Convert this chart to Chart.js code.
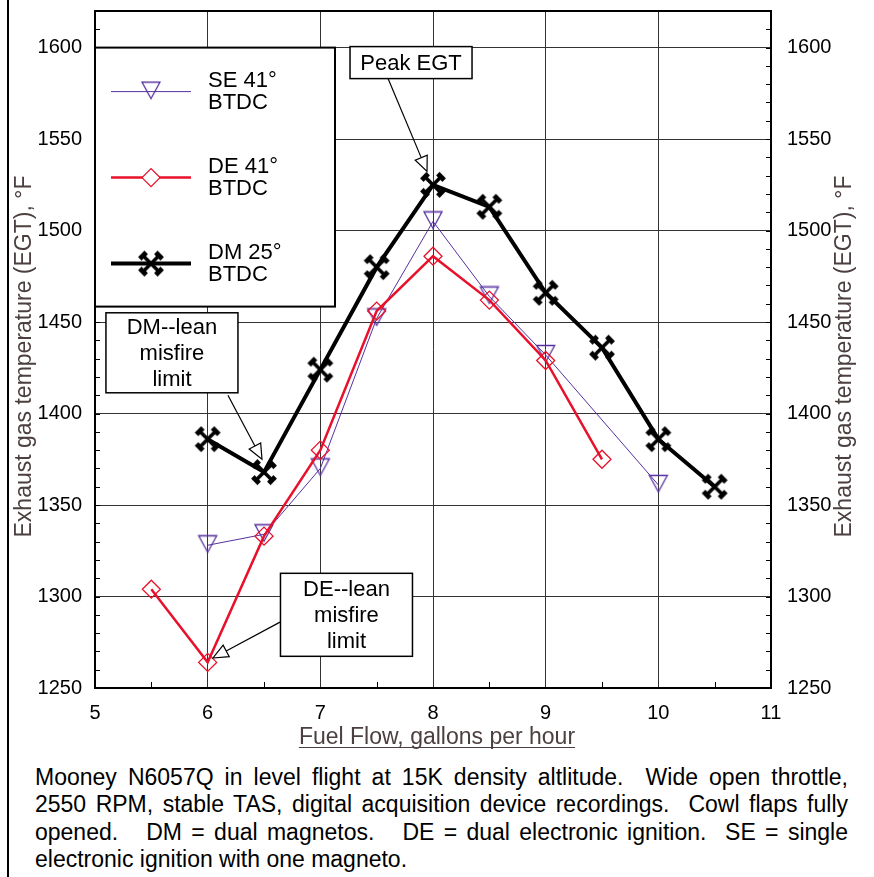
<!DOCTYPE html>
<html><head><meta charset="utf-8">
<script src="https://cdn.jsdelivr.net/npm/chart.js@4.4.1/dist/chart.umd.min.js"></script>
<style>
html,body{margin:0;padding:0;background:#fff;width:874px;height:877px;overflow:hidden;}
#wrap{position:absolute;left:0;top:0;width:874px;height:750px;}
#frame{position:absolute;left:7px;top:0;width:2px;height:877px;background:#000;}
#caption{position:absolute;left:35px;top:764px;width:813px;font-family:"Liberation Sans",Arial,sans-serif;font-size:23px;line-height:27.3px;color:#000;}
#caption .j{text-align:justify;text-align-last:justify;}
</style></head>
<body>
<div id="frame"></div>
<div id="wrap"><canvas id="c" width="874" height="750"></canvas></div>
<div id="caption">
<div class="j">Mooney N6057Q in level flight at 15K density altlitude.&nbsp; Wide open throttle,</div>
<div class="j">2550 RPM, stable TAS, digital acquisition device recordings.&nbsp; Cowl flaps fully</div>
<div class="j">opened.&nbsp;&nbsp; DM = dual magnetos.&nbsp;&nbsp; DE = dual electronic ignition.&nbsp; SE = single</div>
<div>electronic ignition with one magneto.</div>
</div>
<script>
// ---------------- data ----------------
const fuelFlowDM = [6, 6.5, 7, 7.5, 8, 8.5, 9, 9.5, 10, 10.5];
const egtDM      = [1386, 1368, 1424, 1480, 1525, 1513, 1466, 1436, 1386, 1360];
const fuelFlowDE = [5.5, 6, 6.5, 7, 7.5, 8, 8.5, 9, 9.5];
const egtDE      = [1304, 1264, 1333, 1380, 1456, 1486, 1462, 1429, 1375];
const fuelFlowSE = [6, 6.5, 7, 7.5, 8, 8.5, 9, 10];
const egtSE      = [1328, 1334, 1370, 1452, 1505, 1464, 1432, 1361];
const labelSE = ['SE 41°', 'BTDC'];
const labelDE = ['DE 41°', 'BTDC'];
const labelDM = ['DM 25°', 'BTDC'];
const xTickValues = [5, 6, 7, 8, 9, 10, 11];
const yTickValues = [1250, 1300, 1350, 1400, 1450, 1500, 1550, 1600];
const xAxisTitle = 'Fuel Flow, gallons per hour';
const yAxisTitle = 'Exhaust gas temperature (EGT), °F';
const peakText = ['Peak EGT'];
const dmLeanText = ['DM--lean', 'misfire', 'limit'];
const deLeanText = ['DE--lean', 'misfire', 'limit'];

// ---------------- styles ----------------
const FONT = '"Liberation Sans", Arial, sans-serif';
const SE_COLOR = '#5530a0';
const DE_COLOR = '#e8102a';
const DM_COLOR = '#000000';
const TITLE_COLOR = '#4b3f3f';

function makeTri() {
  const c = document.createElement('canvas'); c.width = 22; c.height = 22;
  const g = c.getContext('2d');
  g.strokeStyle = SE_COLOR; g.lineWidth = 1.3;
  g.beginPath(); g.moveTo(2, 1.5); g.lineTo(20, 1.5); g.lineTo(11, 18); g.closePath(); g.stroke();
  return c;
}
function makeX() {
  const c = document.createElement('canvas'); c.width = 32; c.height = 32;
  const g = c.getContext('2d');
  g.translate(16, 16);
  g.strokeStyle = DM_COLOR; g.fillStyle = DM_COLOR; g.lineWidth = 3.6;
  const a = 8;
  g.beginPath(); g.moveTo(-a, -a); g.lineTo(a, a); g.moveTo(a, -a); g.lineTo(-a, a); g.stroke();
  for (const [sx, sy] of [[1,1],[1,-1],[-1,1],[-1,-1]]) {
    g.save(); g.translate(sx * a, sy * a); g.rotate(Math.atan2(sy, sx));
    g.fillRect(-2.5, -4.5, 5, 9); g.restore();
  }
  return c;
}
const triImg = makeTri();
const xImg = makeX();

const toPts = (xs, ys) => xs.map((x, i) => ({ x: x, y: ys[i] }));

// annotation anchors in data units
const annotations = [
  { lines: peakText, box: { x: 7.805, y: 1591.8, w: 122, h: 32 }, tail: { x: 7.601, y: 1583.1 }, tip: { x: 7.947, y: 1532.3 } },
  { lines: dmLeanText, box: { x: 5.683, y: 1433.2, w: 132, h: 80 }, tail: { x: 6.180, y: 1410.0 }, tip: { x: 6.482, y: 1375.0 } },
  { lines: deLeanText, box: { x: 7.232, y: 1290.0, w: 132, h: 83 }, tail: { x: 6.642, y: 1286.0 }, tip: { x: 6.047, y: 1266.4 } }
];

function drawArrow(g, x1, y1, x2, y2) {
  const ang = Math.atan2(y2 - y1, x2 - x1);
  const L = 15, W = 6.5;
  const bx = x2 - L * Math.cos(ang), by = y2 - L * Math.sin(ang);
  g.strokeStyle = '#000'; g.lineWidth = 1.2;
  g.beginPath(); g.moveTo(x1, y1); g.lineTo(bx, by); g.stroke();
  g.beginPath(); g.moveTo(x2, y2);
  g.lineTo(bx + W * Math.sin(ang), by - W * Math.cos(ang));
  g.lineTo(bx - W * Math.sin(ang), by + W * Math.cos(ang));
  g.closePath(); g.fillStyle = '#fff'; g.fill(); g.stroke();
}

const decorPlugin = {
  id: 'decor',
  afterDraw(chart) {
    const g = chart.ctx, ca = chart.chartArea;
    const xs = chart.scales.x, ys = chart.scales.y;
    g.save();
    // frame
    g.strokeStyle = '#000'; g.lineWidth = 2;
    g.strokeRect(ca.left, ca.top, ca.right - ca.left, ca.bottom - ca.top);
    // minor ticks
    g.lineWidth = 1;
    g.beginPath();
    for (let v = ys.min; v <= ys.max; v += 10) {
      const py = Math.round(ys.getPixelForValue(v)) + 0.5;
      g.moveTo(ca.left, py); g.lineTo(ca.left + 5, py);
      g.moveTo(ca.right, py); g.lineTo(ca.right - 5, py);
    }
    for (let v = xs.min + 0.5; v < xs.max; v += 1) {
      const px = Math.round(xs.getPixelForValue(v)) + 0.5;
      g.moveTo(px, ca.bottom); g.lineTo(px, ca.bottom - 6);
    }
    g.stroke();
    // axis titles
    g.fillStyle = TITLE_COLOR;
    g.font = '23px ' + FONT;
    g.textAlign = 'center'; g.textBaseline = 'middle';
    const cy = (ca.top + ca.bottom) / 2 + 7;
    g.save(); g.translate(25, cy); g.rotate(-Math.PI / 2); g.fillText(yAxisTitle, 0, 0); g.restore();
    g.save(); g.translate(845, cy); g.rotate(-Math.PI / 2); g.fillText(yAxisTitle, 0, 0); g.restore();
    const tx = (ca.left + ca.right) / 2 + 4, tyBase = ca.bottom + 56;
    g.textBaseline = 'alphabetic';
    g.fillText(xAxisTitle, tx, tyBase);
    const tw = g.measureText(xAxisTitle).width;
    g.strokeStyle = TITLE_COLOR; g.lineWidth = 1.2;
    g.beginPath(); g.moveTo(tx - tw / 2, tyBase + 3.5); g.lineTo(tx + tw / 2, tyBase + 3.5); g.stroke();

    // legend
    const lx = ca.left, ly = ys.getPixelForValue(1600);
    g.fillStyle = '#fff'; g.fillRect(lx, ly, 240, 259);
    g.strokeStyle = '#000'; g.lineWidth = 2; g.strokeRect(lx, ly, 240, 259);
    const entries = [
      { lab: labelSE, color: SE_COLOR, w: 1, img: triImg, y: ly + 44 },
      { lab: labelDE, color: DE_COLOR, w: 2.5, img: null, y: ly + 130 },
      { lab: labelDM, color: DM_COLOR, w: 4, img: xImg, y: ly + 216 }
    ];
    for (const e of entries) {
      g.strokeStyle = e.color; g.lineWidth = e.w;
      g.beginPath(); g.moveTo(lx + 16, e.y); g.lineTo(lx + 96, e.y); g.stroke();
      const mx = lx + 56;
      if (e.img) g.drawImage(e.img, mx - e.img.width / 2, e.y - e.img.height / 2);
      else {
        g.fillStyle = '#fff'; g.lineWidth = 1.3;
        g.beginPath(); g.moveTo(mx - 9, e.y); g.lineTo(mx, e.y - 9); g.lineTo(mx + 9, e.y); g.lineTo(mx, e.y + 9); g.closePath();
        g.fill(); g.stroke();
      }
      g.fillStyle = '#000'; g.font = '22px ' + FONT; g.textAlign = 'left'; g.textBaseline = 'alphabetic';
      g.fillText(e.lab[0], lx + 113, e.y - 5);
      g.fillText(e.lab[1], lx + 113, e.y + 17.6);
    }

    // annotations
    for (const a of annotations) {
      const bx = xs.getPixelForValue(a.box.x), by = ys.getPixelForValue(a.box.y);
      drawArrow(g, xs.getPixelForValue(a.tail.x), ys.getPixelForValue(a.tail.y),
                   xs.getPixelForValue(a.tip.x), ys.getPixelForValue(a.tip.y));
      g.fillStyle = '#fff'; g.fillRect(bx - a.box.w / 2, by - a.box.h / 2, a.box.w, a.box.h);
      g.strokeStyle = '#000'; g.lineWidth = 1.5; g.strokeRect(bx - a.box.w / 2, by - a.box.h / 2, a.box.w, a.box.h);
      g.fillStyle = '#000'; g.font = '22px ' + FONT; g.textAlign = 'center'; g.textBaseline = 'middle';
      const n = a.lines.length;
      a.lines.forEach((t, i) => g.fillText(t, bx, by + (i - (n - 1) / 2) * 26 + 1));
    }
    g.restore();
  }
};

const tickFont = { family: FONT, size: 20 };
const noPad = s => { s.paddingTop = 0; s.paddingBottom = 0; s.paddingLeft = 0; s.paddingRight = 0; };

new Chart(document.getElementById('c'), {
  type: 'scatter',
  data: {
    datasets: [
      { label: labelDM.join(' '), data: toPts(fuelFlowDM, egtDM), showLine: true, tension: 0,
        borderColor: DM_COLOR, borderWidth: 4, pointStyle: xImg, pointRadius: 4, pointBorderWidth: 1 },
      { label: labelDE.join(' '), data: toPts(fuelFlowDE, egtDE), showLine: true, tension: 0,
        borderColor: DE_COLOR, borderWidth: 2.5, pointStyle: 'rectRot', pointRadius: 9,
        pointBorderWidth: 1.3, pointBorderColor: DE_COLOR, pointBackgroundColor: 'rgba(0,0,0,0)' },
      { label: labelSE.join(' '), data: toPts(fuelFlowSE, egtSE), showLine: true, tension: 0,
        borderColor: SE_COLOR, borderWidth: 1, pointStyle: triImg, pointRadius: 4, pointBorderWidth: 1 }
    ]
  },
  options: {
    responsive: false, animation: false, devicePixelRatio: 1,
    layout: { padding: { top: 11, left: 0, right: 0, bottom: 0 } },
    plugins: { legend: { display: false }, tooltip: { enabled: false } },
    scales: {
      x: {
        type: 'linear', position: 'bottom', min: 5, max: 11,
        afterBuildTicks: s => { s.ticks = xTickValues.map(v => ({ value: v })); },
        afterFit: s => { s.height = 62; noPad(s); },
        ticks: { font: tickFont, color: '#000', padding: 13, callback: v => String(v), maxRotation: 0 },
        grid: { color: '#333', lineWidth: 1, drawTicks: false },
        border: { display: false }
      },
      y: {
        type: 'linear', position: 'left', min: 1250, max: 1620,
        afterBuildTicks: s => { s.ticks = yTickValues.map(v => ({ value: v })); },
        afterFit: s => { s.width = 95; noPad(s); },
        ticks: { font: tickFont, color: '#000', padding: 13, callback: v => String(v) },
        grid: { color: '#333', lineWidth: 1, drawTicks: false },
        border: { display: false }
      },
      y2: {
        type: 'linear', position: 'right', min: 1250, max: 1620,
        afterBuildTicks: s => { s.ticks = yTickValues.map(v => ({ value: v })); },
        afterFit: s => { s.width = 103; noPad(s); },
        ticks: { font: tickFont, color: '#000', padding: 16, callback: v => String(v) },
        grid: { display: false, drawTicks: false },
        border: { display: false }
      }
    }
  },
  plugins: [decorPlugin]
});
</script>
</body></html>
